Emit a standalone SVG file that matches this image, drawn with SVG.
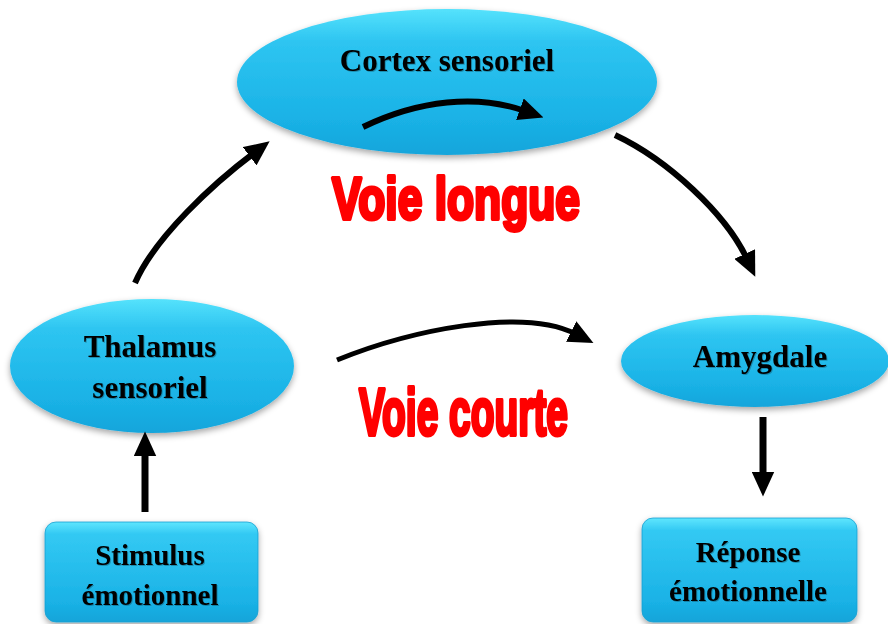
<svg xmlns="http://www.w3.org/2000/svg" width="888" height="624" viewBox="0 0 888 624">
<style>
.node-label{font-family:"Liberation Serif","Times New Roman",serif;font-weight:bold;fill:#000;text-anchor:middle;filter:url(#tshadow);}
.big{font-size:31px;}
.small{font-size:29px;}
.ell{fill:url(#gEll);filter:url(#shadow);}
.box{fill:url(#gBox);filter:url(#shadow);stroke:#1a9fd0;stroke-width:0.8;}
.conn{fill:none;stroke:#000;stroke-linecap:butt;marker-end:url(#ah);}
.red{font-family:"Liberation Sans",Arial,sans-serif;font-weight:bold;fill:#ff0000;stroke:#ff0000;stroke-width:4;stroke-linejoin:round;}
</style>
<defs>
<linearGradient id="gEll" x1="0" y1="0" x2="0" y2="1">
<stop offset="0" stop-color="#55e2fc"/>
<stop offset="0.22" stop-color="#2ec5f1"/>
<stop offset="0.75" stop-color="#1ab2e6"/>
<stop offset="1" stop-color="#15a5db"/>
</linearGradient>
<linearGradient id="gBox" x1="0" y1="0" x2="0" y2="1">
<stop offset="0" stop-color="#5fe6fe"/>
<stop offset="0.12" stop-color="#33c9f3"/>
<stop offset="0.8" stop-color="#1ab2e6"/>
<stop offset="1" stop-color="#15a4d9"/>
</linearGradient>
<filter id="shadow" x="-10%" y="-10%" width="120%" height="130%">
<feDropShadow dx="0" dy="3" stdDeviation="3" flood-color="#000" flood-opacity="0.35"/>
</filter>
<filter id="tshadow" x="-10%" y="-20%" width="120%" height="150%">
<feDropShadow dx="1" dy="1" stdDeviation="0.6" flood-color="#000" flood-opacity="0.25"/>
</filter>
<marker id="ah" markerUnits="userSpaceOnUse" markerWidth="25" markerHeight="23" viewBox="0 0 23 21" refX="5" refY="10.5" orient="auto">
<polygon points="0,0 23,10.5 0,21" fill="#000"/>
</marker>
</defs>
<g id="cortex">
<ellipse class="ell" cx="447" cy="82" rx="210" ry="73"/>
<text class="node-label big" x="447" y="71">Cortex sensoriel</text>
</g>
<g id="thalamus">
<ellipse class="ell" cx="152" cy="366" rx="142" ry="67"/>
<text class="node-label big" x="150" y="357">Thalamus</text>
<text class="node-label big" x="150" y="398">sensoriel</text>
</g>
<g id="amygdale">
<ellipse class="ell" cx="755" cy="361" rx="134" ry="46"/>
<text class="node-label big" x="760" y="367">Amygdale</text>
</g>
<g id="stimulus">
<rect class="box" x="45" y="522" width="213" height="100" rx="11"/>
<text class="node-label small" x="150" y="565">Stimulus</text>
<text class="node-label small" x="150" y="605">émotionnel</text>
</g>
<g id="reponse">
<rect class="box" x="642" y="518" width="215" height="104" rx="11"/>
<text class="node-label small" x="748" y="562">Réponse</text>
<text class="node-label small" x="748" y="601">émotionnelle</text>
</g>
<g id="labels">
<text class="red" x="332" y="219" font-size="60" textLength="248" lengthAdjust="spacingAndGlyphs">Voie longue</text>
<text class="red" x="359" y="435" font-size="66" textLength="209" lengthAdjust="spacingAndGlyphs">Voie courte</text>
</g>
<g id="connectors">
<path class="conn" stroke-width="6" d="M363,127 C419,100 477,94 525,111"/>
<path class="conn" stroke-width="6" d="M135,283 C155,237 214,183 254,153"/>
<path class="conn" stroke-width="6" d="M615,135 C668,160 726,214 747,259"/>
<path class="conn" stroke-width="5" d="M337,360 C411,330 523,307 576,334"/>
<path class="conn" stroke-width="7" d="M145,512 L145,451"/>
<path class="conn" stroke-width="7" d="M763,417 L763,477"/>
</g>
</svg>
